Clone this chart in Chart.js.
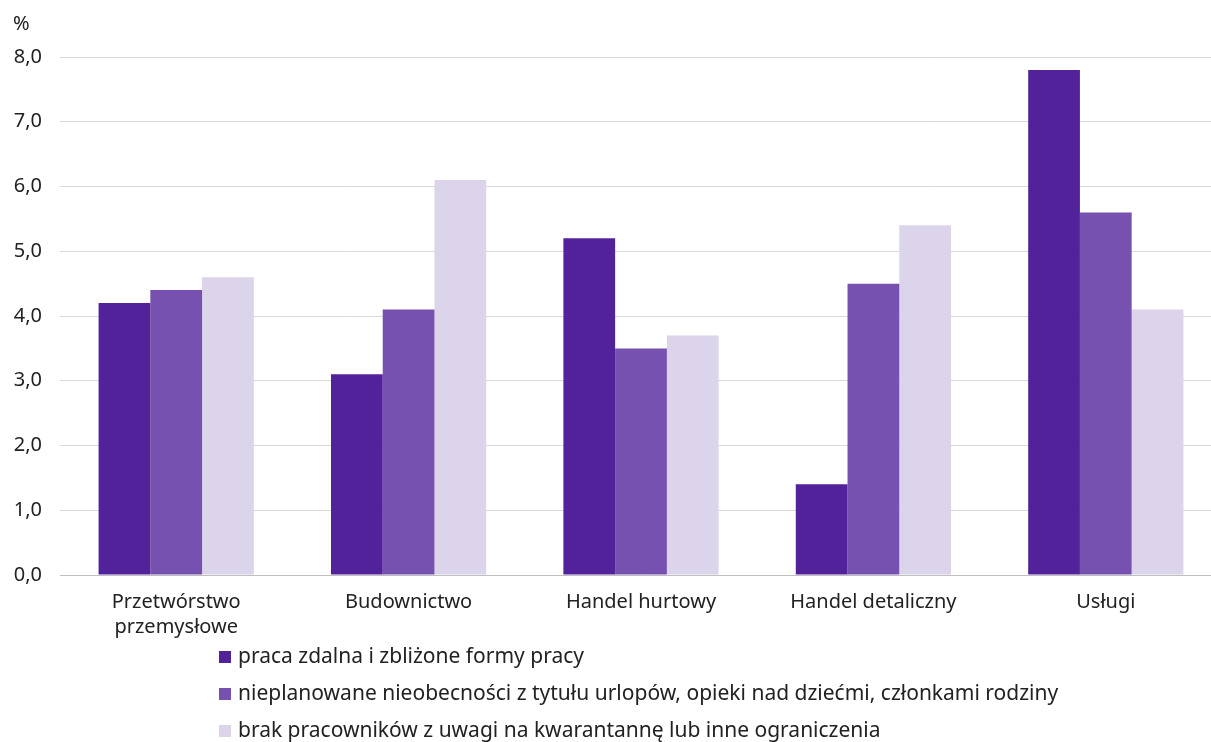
<!DOCTYPE html>
<html>
<head>
<meta charset="utf-8">
<script src="https://cdn.jsdelivr.net/npm/chart.js@4/dist/chart.umd.min.js"></script>
<style>
  body { margin: 0; background: #fff; overflow: hidden; font-family: 'Noto Sans', sans-serif; color: #222; }
  #wrap { position: relative; width: 1211px; height: 742px; overflow: hidden; }
  #unit { position: absolute; left: 13px; top: 9px; font-size: 20px; }
  #legend { position: absolute; left: 219px; top: 640px; font-size: 21px; }
  #legend div { height: 37px; line-height: 30px; white-space: nowrap; }
  #legend span { display: inline-block; width: 12px; height: 12px; margin-right: 7px; vertical-align: 0px; }
</style>
</head>
<body>
<div id="wrap">
  <canvas id="c" width="1222" height="645"></canvas>
  <div id="unit">%</div>
  <div id="legend"></div>
</div>
<script>
const categories = [['Przetwórstwo', 'przemysłowe'], 'Budownictwo', 'Handel hurtowy', 'Handel detaliczny', 'Usługi']
const seriesNames = [
  'praca zdalna i zbliżone formy pracy',
  'nieplanowane nieobecności z tytułu urlopów, opieki nad dziećmi, członkami rodziny',
  'brak pracowników z uwagi na kwarantannę lub inne ograniczenia'
]
const remoteWork = [4.2, 3.1, 5.2, 1.4, 7.8]
const absences = [4.4, 4.1, 3.5, 4.5, 5.6]
const staffShortage = [4.6, 6.1, 3.7, 5.4, 4.1]
const colors = ['#52229a', '#7651b0', '#dcd4ea']

const font = { family: "'Noto Sans', sans-serif", size: 20, lineHeight: 1.25 }

const chart = new Chart(document.getElementById('c'), {
  type: 'bar',
  data: {
    labels: categories,
    datasets: [remoteWork, absences, staffShortage].map((data, i) => ({
      label: seriesNames[i],
      data,
      backgroundColor: colors[i],
      borderWidth: 0,
      barPercentage: 1,
      categoryPercentage: 0.668
    }))
  },
  options: {
    responsive: false,
    animation: false,
    layout: { padding: { top: 57, right: 0, left: 0, bottom: 0 } },
    plugins: { legend: { display: false }, tooltip: { enabled: false } },
    scales: {
      x: {
        grid: { display: false, drawTicks: false },
        border: { color: '#bfbfbf', width: 1 },
        ticks: { color: '#222', font, padding: 15, maxRotation: 0 },
        afterFit: s => { s.height = 70 }
      },
      y: {
        min: 0,
        max: 8,
        grid: { color: '#d9d9d9', drawTicks: false },
        border: { display: false },
        ticks: {
          stepSize: 1,
          color: '#222',
          font,
          padding: 18,
          callback: v => v.toFixed(1).replace('.', ',')
        },
        afterFit: s => { s.width = 60 }
      }
    }
  }
})

const legend = document.getElementById('legend')
chart.data.datasets.forEach(ds => {
  const row = document.createElement('div')
  const box = document.createElement('span')
  box.style.background = ds.backgroundColor
  row.appendChild(box)
  row.appendChild(document.createTextNode(ds.label))
  legend.appendChild(row)
})
</script>
</body>
</html>
